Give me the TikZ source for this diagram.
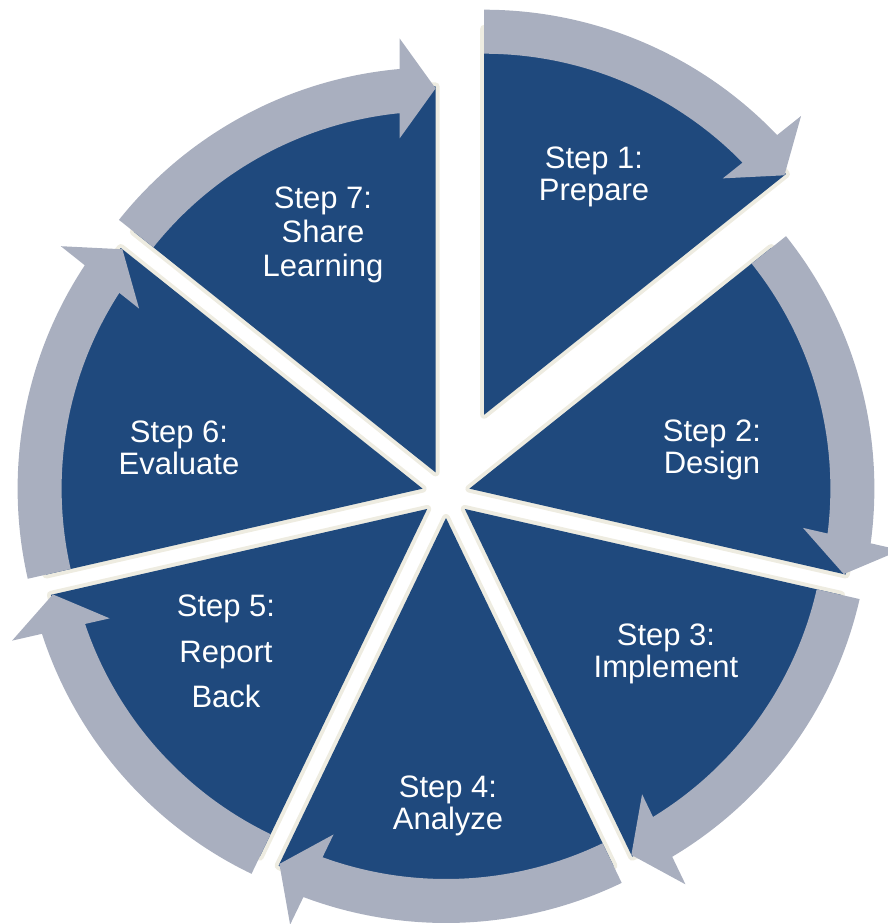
\documentclass[tikz,border=0pt]{standalone}
\usepackage{fontspec}
\setmainfont{Liberation Sans}
\definecolor{segblue}{HTML}{1F497D}
\definecolor{arrgrey}{HTML}{A9AFBF}
\definecolor{rimbeige}{HTML}{EEECE1}
\tikzset{
  wedgefill/.style={fill=segblue},
  wedgerim/.style={draw=rimbeige, line width=8pt, line join=round},
  bandarrow/.style={fill=arrgrey},
  steplabel/.style={text=white, align=center, font=\fontsize{31}{32}\selectfont}
}
\begin{document}
\begin{tikzpicture}
\useasboundingbox (-446pt,-430pt) rectangle (442pt,494pt);
% wedges
\foreach \k/\d in {1/88,2/24,3/24,4/24,5/24,6/24,7/24}{
  \pgfmathsetmacro{\aS}{90-(\k-1)*360/7}
  \pgfmathsetmacro{\aT}{90-\k*360/7}
  \pgfmathsetmacro{\aB}{90-(\k-0.5)*360/7}
  \begin{scope}[shift={(\aB:\d pt)}]
    \path[wedgerim] (0pt,0pt) -- (\aT:386pt) arc[start angle=\aT, end angle=\aS, radius=386pt] -- cycle;
    \fill[wedgefill] (0pt,0pt) -- (\aT:386pt) arc[start angle=\aT, end angle=\aS, radius=386pt] -- cycle;
  \end{scope}
}
% arrows
\foreach \k/\d in {1/88,2/24,3/24,4/24,5/24,6/24,7/24}{
  \pgfmathsetmacro{\aS}{90-(\k-1)*360/7}
  \pgfmathsetmacro{\aT}{90-\k*360/7}
  \pgfmathsetmacro{\aB}{90-(\k-0.5)*360/7}
  \pgfmathsetmacro{\aO}{\aT+5.1}
  \pgfmathsetmacro{\aOb}{\aT+4.74}
  \pgfmathsetmacro{\aIb}{\aT+6.15}
  \pgfmathsetmacro{\aI}{\aT+5.72}
  \begin{scope}[shift={(\aB:\d pt)}]
    \fill[bandarrow] (\aS:405pt) arc[start angle=\aS, end angle=\aO, radius=405pt]
      -- (\aOb:435.5pt) -- (\aT:384pt) -- (\aIb:335.9pt) -- (\aI:361pt)
      arc[start angle=\aI, end angle=\aS, radius=361pt] -- cycle;
  \end{scope}
}
% labels
\node[steplabel] (s1) at (148pt,317pt) {Step 1:\\Prepare};
\node[steplabel] (s2) at (266pt,44pt) {Step 2:\\Design};
\node[steplabel] (s3) at (220pt,-160pt) {Step 3:\\Implement};
\node[steplabel] (s4) at (2pt,-312pt) {Step 4:\\Analyze};
\node[steplabel] (s5) at (-220pt,-157pt) {Step 5:\\[14pt]Report\\[13pt]Back};
\node[steplabel] (s6) at (-267pt,46.5pt) {Step 6:\\Evaluate};
\node[steplabel] (s7) at (-123pt,259pt) {Step 7:\\[2pt]Share\\[2pt]Learning};
\end{tikzpicture}
\end{document}
